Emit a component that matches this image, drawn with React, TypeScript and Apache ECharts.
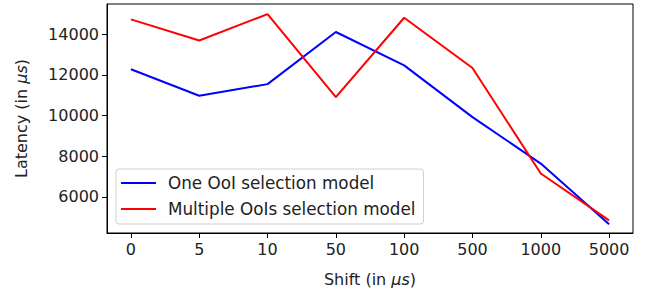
import React, { useEffect, useRef } from "react";
import * as echarts from "echarts";

const categories = ["0", "5", "10", "50", "100", "500", "1000", "5000"];
const oneOoI = [12270, 10970, 11540, 14100, 12460, 9920, 7640, 4660];
const multipleOoIs = [14720, 13680, 14980, 10900, 14800, 12330, 7150, 4850];
const yTicks = [6000, 8000, 10000, 12000, 14000];

export default function App() {
  const ref = useRef<HTMLDivElement>(null);
  useEffect(() => {
    const chart = echarts.init(ref.current!, undefined, { renderer: "svg" });
    const font = "DejaVu Sans";
    const fs = 16;
    const xTicks = categories.map((_, i) => i);
    const rich = {
      n: { fontSize: fs, color: "#222", fontFamily: font },
      i: { fontSize: fs, color: "#222", fontFamily: font, fontStyle: "italic" },
    };
    chart.setOption({
      animation: false,
      textStyle: { fontFamily: font },
      grid: { left: 107, right: 17, top: 4, bottom: 61, show: true, borderColor: "#000", borderWidth: 1, backgroundColor: "transparent" },
      xAxis: {
        type: "value",
        min: -0.35,
        max: 7.35,
        splitLine: { show: false },
        axisLine: { show: true, onZero: false, lineStyle: { color: "#000" } },
        axisTick: { show: true, customValues: xTicks, length: 5, lineStyle: { color: "#000" } },
        axisLabel: {
          customValues: xTicks,
          formatter: (v: number) => categories[Math.round(v)] ?? "",
          color: "#222",
          fontSize: fs,
          margin: 8,
          fontFamily: font,
        },
        name: "{n|Shift (in }{i|μs}{n|)}",
        nameLocation: "middle",
        nameGap: 38,
        nameTextStyle: { rich },
      },
      yAxis: {
        type: "value",
        min: 4231,
        max: 15474,
        splitLine: { show: false },
        axisLine: { show: true, onZero: false, lineStyle: { color: "#000" } },
        axisTick: { show: true, customValues: yTicks, length: 5, lineStyle: { color: "#000" } },
        axisLabel: {
          customValues: yTicks,
          formatter: (v: number) => String(v),
          color: "#222",
          fontSize: fs,
          margin: 8,
          fontFamily: font,
        },
        name: "{n|Latency (in }{i|μs}{n|)}",
        nameLocation: "middle",
        nameGap: 78,
        nameTextStyle: { rich },
      },
      legend: {
        orient: "vertical",
        left: 116,
        top: 169,
        icon: "rect",
        itemWidth: 35,
        itemHeight: 2,
        itemGap: 8,
        padding: [5, 8, 6, 5],
        borderColor: "#d0d0d0",
        borderWidth: 1,
        borderRadius: 3,
        backgroundColor: "rgba(255,255,255,0.8)",
        textStyle: { fontSize: 16.8, lineHeight: 18, color: "#222", fontFamily: font, padding: [0, 0, 0, 7] },
        data: ["One OoI selection model", "Multiple OoIs selection model"],
      },
      series: [
        {
          name: "One OoI selection model",
          type: "line",
          data: oneOoI.map((v, i) => [i, v]),
          symbol: "none",
          lineStyle: { color: "#0000ff", width: 2 },
          itemStyle: { color: "#0000ff" },
        },
        {
          name: "Multiple OoIs selection model",
          type: "line",
          data: multipleOoIs.map((v, i) => [i, v]),
          symbol: "none",
          lineStyle: { color: "#ff0000", width: 2 },
          itemStyle: { color: "#ff0000" },
        },
      ],
    });
    return () => chart.dispose();
  }, []);
  return <div ref={ref} style={{ width: 650, height: 294, position: "absolute", left: 0, top: 0 }} />;
}
